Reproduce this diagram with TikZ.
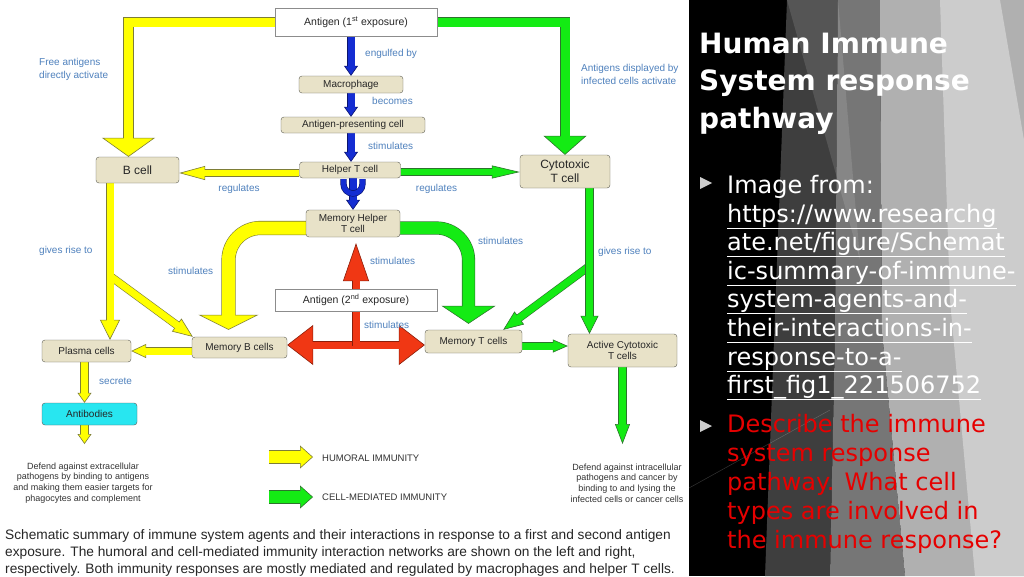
\documentclass[tikz,border=0pt]{standalone}
\usepackage{fontspec}
\setmainfont{Liberation Sans}
\newfontfamily\slidefont{DejaVu Sans}
\usetikzlibrary{arrows.meta,backgrounds,positioning}
\definecolor{CellColor}{RGB}{232,226,200}
\definecolor{CellEdge}{RGB}{95,95,85}
\definecolor{AntibodyColor}{RGB}{40,230,240}
\definecolor{LabelColor}{RGB}{79,129,189}
\definecolor{HumoralColor}{RGB}{255,255,0}
\definecolor{HumoralEdge}{RGB}{125,125,55}
\definecolor{CellMedColor}{RGB}{20,235,20}
\definecolor{CellMedEdge}{RGB}{45,115,45}
\definecolor{HelperColor}{RGB}{20,45,210}
\definecolor{HelperEdge}{RGB}{10,20,110}
\definecolor{SecondColor}{RGB}{240,55,20}
\definecolor{SecondEdge}{RGB}{140,30,10}
\definecolor{BulletColor}{RGB}{205,205,205}
\definecolor{QuestionColor}{RGB}{230,0,0}
\definecolor{PanelDark}{RGB}{62,62,62}
\definecolor{PanelMid}{RGB}{118,118,118}
\definecolor{PanelLight}{RGB}{176,176,176}
\definecolor{PanelPale}{RGB}{204,204,204}

\begin{document}
\begin{tikzpicture}[x=1pt, y=-1pt,
    cell/.style={draw=CellEdge, fill=CellColor, rounded corners=3pt, align=center,
        text=black!85, inner sep=1pt, font=\fontsize{10}{11.5}\selectfont},
    antigen/.style={draw=black!45, fill=white, minimum width=162pt, text=black!85,
        font=\fontsize{10.5}{12}\selectfont},
    tag/.style={text=LabelColor, inner sep=0pt, align=left, font=\fontsize{10}{12.5}\selectfont},
    note/.style={text=black!80, inner sep=0pt, align=center, font=\fontsize{9}{10.7}\selectfont},
    legend/.style={text=black!80, inner sep=0pt, font=\fontsize{9.5}{11}\selectfont},
    caption/.style={text=black!85, inner sep=0pt, font=\fontsize{13.7}{17}\selectfont},
    title/.style={text=white, inner sep=0pt, font=\slidefont\bfseries\fontsize{28}{34}\selectfont},
    body/.style={inner sep=0pt, font=\slidefont\fontsize{24}{29}\selectfont},
    fat/.style n args={5}{% fill, edge, shaft, head length, head width
        preaction={draw=#2, line width=#3+1.2pt, shorten >=0pt,
            -{Triangle[length=#4, width=#5, fill=#1, line width=0.6pt]}},
        draw=#1, line width=#3, shorten >=#4-1.5pt},
    fatboth/.style n args={5}{%
        preaction={draw=#2, line width=#3+1.2pt, shorten >=0pt, shorten <=0pt,
            {Triangle[length=#4, width=#5, fill=#1, line width=0.6pt]}-{Triangle[length=#4, width=#5, fill=#1, line width=0.6pt]}},
        draw=#1, line width=#3, shorten >=#4-1.5pt, shorten <=#4-1.5pt}]

    \useasboundingbox (0,0) rectangle (1024,576);

    % slide panel
    \fill[black] (689,0) rectangle (1024,576);
    \fill[PanelDark] (787,0) -- (838,0) -- (835,331) -- (830,576) -- (765,576) -- cycle;
    \fill[PanelMid] (838,0) -- (880,0) -- (882,331) -- (835,331) -- cycle;
    \fill[PanelMid] (835,331) -- (882,331) -- (905,576) -- (830,576) -- cycle;
    \fill[PanelLight] (880,0) -- (1024,0) -- (1024,576) -- (905,576) -- (882,331) -- cycle;
    \fill[PanelPale] (940,0) -- (1000,0) -- (1024,140) -- (1024,576) -- (975,576) -- (950,300) -- cycle;
    \fill[white, opacity=.12] (787,0) -- (838,0) -- (860,260) -- cycle;
    \draw[white, opacity=.2, line width=.5pt] (689,488) -- (830,410);

    % boxes
    \node[antigen, minimum height=28pt] (Ag1) at (356,22) {Antigen (1\textsuperscript{st} exposure)};
    \node[cell, minimum width=104pt, minimum height=17pt] (Macro) at (351,84.5) {Macrophage};
    \node[cell, minimum width=144pt, minimum height=16pt] (APC) at (353,125) {Antigen-presenting cell};
    \node[cell, minimum width=101pt, minimum height=16pt] (HelperT) at (350,170) {Helper T cell};
    \node[cell, minimum width=83pt, minimum height=26pt, font=\fontsize{12}{14}\selectfont] (Bcell) at (137.5,170) {B cell};
    \node[cell, minimum width=90pt, minimum height=33pt, font=\fontsize{12}{14}\selectfont] (Cyto) at (565,171.5) {Cytotoxic\\T cell};
    \node[cell, minimum width=94pt, minimum height=27pt] (MemHelper) at (353,223.5) {Memory Helper\\T cell};
    \node[antigen, minimum height=22pt] (Ag2) at (356,300) {Antigen (2\textsuperscript{nd} exposure)};
    \node[cell, minimum width=95pt, minimum height=21pt] (MemB) at (239.5,347.5) {Memory B cells};
    \node[cell, minimum width=97pt, minimum height=23pt] (MemT) at (473.5,341.5) {Memory T cells};
    \node[cell, minimum width=109pt, minimum height=33pt] (Active) at (622.5,350.5) {Active Cytotoxic\\T cells};
    \node[cell, minimum width=89pt, minimum height=22pt] (Plasma) at (86.5,351) {Plasma cells};
    \node[cell, fill=AntibodyColor, draw=black!65, minimum width=95pt, minimum height=22pt] (Antibodies) at (89.5,414) {Antibodies};

    % labels
    \node[tag, anchor=west] (lblFree) at (39,69.5) {Free antigens\\directly activate};
    \node[tag, anchor=west] (lblEngulf) at (365,54) {engulfed by};
    \node[tag, anchor=west] (lblBecomes) at (372,100.5) {becomes};
    \node[tag, anchor=west] (lblStimA) at (368,145.5) {stimulates};
    \node[tag] (lblRegA) at (239,189) {regulates};
    \node[tag] (lblRegB) at (436.5,189) {regulates};
    \node[tag, anchor=west] (lblDisplay) at (581,74.5) {Antigens displayed by\\infected cells activate};
    \node[tag, anchor=west] (lblRiseA) at (39,251) {gives rise to};
    \node[tag, anchor=west] (lblStimB) at (168,271) {stimulates};
    \node[tag, anchor=west] (lblStimC) at (478,241) {stimulates};
    \node[tag, anchor=west] (lblRiseB) at (598,251.5) {gives rise to};
    \node[tag, anchor=west] (lblStimD) at (370,261) {stimulates};
    \node[tag, anchor=west] (lblStimE) at (364,325) {stimulates};
    \node[tag, anchor=west] (lblSecrete) at (99,381.5) {secrete};

    \node[note] (defendA) at (83,483) {Defend against extracellular\\pathogens by binding to antigens\\and making them easier targets for\\phagocytes and complement};
    \node[note] (defendB) at (627,483) {Defend against intracellular\\pathogens and cancer by\\binding to and lysing the\\infected cells or cancer cells};

    % legend
    \coordinate (HumA) at (269,457);
    \coordinate (HumB) at (313,457);
    \coordinate (MedA) at (269,497);
    \coordinate (MedB) at (313,497);
    \node[legend, anchor=west] (HumText) at (322,458) {HUMORAL IMMUNITY};
    \node[legend, anchor=west] (MedText) at (322,497.5) {CELL-MEDIATED IMMUNITY};

    % caption
    \node[caption, anchor=base west] (capA) at (5,539) {Schematic summary of immune system agents and their interactions in response to a first and second antigen};
    \node[caption, anchor=base west] (capB) at (5,556.3) {exposure. The humoral and cell-mediated immunity interaction networks are shown on the left and right,};
    \node[caption, anchor=base west] (capC) at (5,573.6) {respectively. Both immunity responses are mostly mediated and regulated by macrophages and helper T cells.};

    % slide text
    \foreach \txt/\yy [count=\i] in {Human Immune/53, System response/90.5, pathway/128}
        \node[title, anchor=base west] (title\i) at (699,\yy) {\txt};

    \fill[BulletColor] (700,177) -- (712,183) -- (700,189) -- cycle;
    \node[body, text=white, anchor=base west] (imgfrom) at (727,193) {Image from:};
    \foreach \txt [count=\i, evaluate=\i as \yy using 222+28.6*(\i-1)] in
        {https://www.researchg, ate.net/figure/Schemat, ic-summary-of-immune-,
         system-agents-and-, their-interactions-in-, response-to-a-, first\_fig1\_221506752} {
        \node[body, text=white, anchor=base west] (url\i) at (727,\yy) {\txt};
        \draw[white, line width=1pt] ([yshift=-6pt]url\i.base west) -- ([yshift=-6pt]url\i.base east);
    }

    \fill[BulletColor] (700,420) -- (712,426) -- (700,432) -- cycle;
    \foreach \txt [count=\i, evaluate=\i as \yy using 432+29*(\i-1)] in
        {Describe the immune, system response, pathway. What cell, types are involved in, the immune response?}
        \node[body, text=QuestionColor, anchor=base west] (ask\i) at (727,\yy) {\txt};

    \begin{scope}[on background layer]
        \fill[white] (0,0) rectangle (689,576);

        \coordinate (Bdrop) at ([xshift=-27.5pt]Bcell.south);
        \coordinate (Bfork) at (110,276);
        \coordinate (Cdrop) at ([xshift=24.5pt]Cyto.south);
        \coordinate (Cfork) at (589.5,266);
        \coordinate (Pdrop) at ([xshift=-2pt]Plasma.south);
        \coordinate (AbEnd) at (84.5,444);
        \coordinate (ActEnd) at (622.5,444);
        \coordinate (Rfork) at (356,345.5);
        \coordinate (Rtop) at ([yshift=-6pt]MemHelper.south);

        % humoral
        \draw[fat={HumoralColor}{HumoralEdge}{9pt}{19pt}{53pt}] (Ag1.west) -| ([xshift=-9pt]Bcell.north);
        \draw[fat={HumoralColor}{HumoralEdge}{6pt}{26pt}{14pt}] ([yshift=-3pt]HelperT.west) -- ([yshift=-3pt]Bcell.east);
        \draw[fat={HumoralColor}{HumoralEdge}{7pt}{20pt}{16pt}] (Bfork) -- ([xshift=1pt]MemB.north west);
        \draw[fat={HumoralColor}{HumoralEdge}{7pt}{20pt}{20pt}] (Bdrop) -- (Bdrop |- Plasma.north);
        \draw[fat={HumoralColor}{HumoralEdge}{13pt}{15pt}{60pt}, rounded corners=32pt]
            ([yshift=-4.5pt]MemHelper.west) -| ([xshift=-11pt, yshift=7pt]MemB.north);
        \draw[fat={HumoralColor}{HumoralEdge}{7pt}{15pt}{14pt}] (MemB.west |- Plasma.east) -- (Plasma.east);
        \draw[fat={HumoralColor}{HumoralEdge}{7pt}{10pt}{14pt}] (Pdrop) -- (Pdrop |- Antibodies.north);
        \draw[fat={HumoralColor}{HumoralEdge}{7pt}{10pt}{14pt}] (AbEnd |- Antibodies.south) -- (AbEnd);
        \draw[fat={HumoralColor}{HumoralEdge}{12pt}{13pt}{23pt}] (HumA) -- (HumB);

        % cell-mediated
        \draw[fat={CellMedColor}{CellMedEdge}{9pt}{19pt}{43pt}] (Ag1.east) -| (Cyto.north);
        \draw[fat={CellMedColor}{CellMedEdge}{6pt}{28pt}{13pt}] ([yshift=-2pt]HelperT.east) -- ([yshift=-0.5pt]Cyto.west);
        \draw[fat={CellMedColor}{CellMedEdge}{7pt}{20pt}{16pt}] (Cfork) -- ([xshift=-19pt]MemT.north east);
        \draw[fat={CellMedColor}{CellMedEdge}{7pt}{18pt}{18pt}] (Cdrop) -- (Cdrop |- Active.north);
        \draw[fat={CellMedColor}{CellMedEdge}{12pt}{18pt}{54pt}, rounded corners=32pt]
            ([yshift=-4.5pt]MemHelper.east) -| ([xshift=-5pt, yshift=6pt]MemT.north);
        \draw[fat={CellMedColor}{CellMedEdge}{7pt}{15pt}{13pt}] ([yshift=-4.5pt]MemT.east) -- ([yshift=4.5pt]Active.west);
        \draw[fat={CellMedColor}{CellMedEdge}{7pt}{20pt}{15pt}] (Active.south) -- (ActEnd);
        \draw[fat={CellMedColor}{CellMedEdge}{12pt}{13pt}{23pt}] (MedA) -- (MedB);

        % helper chain
        \draw[fat={HelperColor}{HelperEdge}{7pt}{10pt}{14pt}] (Macro.north |- Ag1.south) -- (Macro.north);
        \draw[fat={HelperColor}{HelperEdge}{7pt}{10pt}{14pt}] (Macro.south) -- (Macro.south |- APC.north);
        \draw[fat={HelperColor}{HelperEdge}{7pt}{10pt}{14pt}] (Macro.south |- APC.south) -- (Macro.south |- HelperT.north);
        \draw[fat={HelperColor}{HelperEdge}{7pt}{10pt}{14pt}] (MemHelper.north |- HelperT.south) -- (MemHelper.north);
        \draw[HelperColor, line width=5pt, preaction={draw=HelperEdge, line width=6.2pt}]
            (343.5,179) -- (343.5,184) arc[start angle=180, end angle=0, radius=9.5] -- (362.5,179);

        % second exposure
        \draw[fatboth={SecondColor}{SecondEdge}{7pt}{26pt}{40pt}] ([yshift=2.5pt]MemB.east) -- ([yshift=2.5pt]MemB.east -| MemT.west);
        \draw[fat={SecondColor}{SecondEdge}{7pt}{38pt}{26pt}] (Rfork) -- (Rfork |- Rtop);
    \end{scope}

\end{tikzpicture}
\end{document}
